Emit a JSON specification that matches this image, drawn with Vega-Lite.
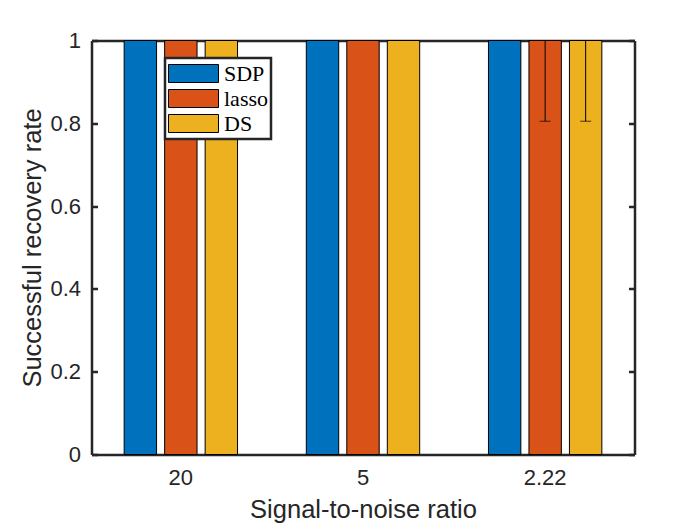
{
  "$schema": "https://vega.github.io/schema/vega-lite/v6.json",
  "width": 543,
  "height": 414,
  "autosize": {"type": "none"},
  "padding": {"left": 91.5, "top": 40.5, "right": 65.5, "bottom": 70.5},
  "background": "white",
  "data": {
    "values": [
      {"snr": "20", "method": "SDP", "rate": 1, "lo": 1, "hi": 1},
      {"snr": "20", "method": "lasso", "rate": 1, "lo": 1, "hi": 1},
      {"snr": "20", "method": "DS", "rate": 1, "lo": 1, "hi": 1},
      {"snr": "5", "method": "SDP", "rate": 1, "lo": 1, "hi": 1},
      {"snr": "5", "method": "lasso", "rate": 1, "lo": 1, "hi": 1},
      {"snr": "5", "method": "DS", "rate": 1, "lo": 1, "hi": 1},
      {"snr": "2.22", "method": "SDP", "rate": 1, "lo": 1, "hi": 1},
      {"snr": "2.22", "method": "lasso", "rate": 1, "lo": 0.805, "hi": 1},
      {"snr": "2.22", "method": "DS", "rate": 1, "lo": 0.805, "hi": 1}
    ]
  },
  "encoding": {
    "x": {
      "field": "snr",
      "type": "nominal",
      "sort": ["20", "5", "2.22"],
      "scale": {"paddingInner": 0.333, "paddingOuter": 0.157},
      "axis": null
    },
    "xOffset": {
      "field": "method",
      "type": "nominal",
      "sort": ["SDP", "lasso", "DS"],
      "scale": {"paddingInner": 0.2, "paddingOuter": 0.1}
    }
  },
  "layer": [
    {
      "mark": {"type": "bar", "stroke": "black", "strokeWidth": 1},
      "encoding": {
        "x": {
          "field": "snr",
          "type": "nominal",
          "sort": ["20", "5", "2.22"],
          "title": "Signal-to-noise ratio",
          "axis": {"orient": "bottom", "labelAngle": 0, "labelPadding": 19, "titlePadding": 9}
        },
        "y": {
          "field": "rate",
          "type": "quantitative",
          "scale": {"domain": [0, 1], "nice": false},
          "title": "Successful recovery rate",
          "axis": {"orient": "left", "values": [0, 0.2, 0.4, 0.6, 0.8, 1], "format": "~g", "labelPadding": 17}
        },
        "color": {
          "field": "method",
          "type": "nominal",
          "sort": ["SDP", "lasso", "DS"],
          "scale": {"domain": ["SDP", "lasso", "DS"], "range": ["#0072BD", "#D95319", "#EDB120"]},
          "legend": {
            "title": null,
            "orient": "none",
            "legendX": 73.5,
            "legendY": 17.5,
            "symbolType": "M-1,-0.36H1V0.36H-1Z",
            "symbolSize": 2500,
            "symbolStrokeColor": "black",
            "symbolStrokeWidth": 1,
            "symbolOpacity": 1,
            "clipHeight": 25,
            "rowPadding": 0,
            "labelOffset": 5,
            "labelFont": "Liberation Serif",
            "labelFontSize": 22,
            "labelColor": "black",
            "padding": 3,
            "fillColor": "white",
            "strokeColor": "#262626"
          }
        }
      }
    },
    {
      "mark": {"type": "rule", "color": "black", "strokeWidth": 1},
      "encoding": {
        "x": {
          "field": "snr",
          "type": "nominal",
          "sort": ["20", "5", "2.22"],
          "title": null,
          "axis": {"orient": "top", "labels": false}
        },
        "y": {
          "field": "lo",
          "type": "quantitative",
          "title": null,
          "axis": {"orient": "right", "labels": false, "values": [0, 0.2, 0.4, 0.6, 0.8, 1]}
        },
        "y2": {"field": "hi"}
      }
    },
    {
      "mark": {"type": "tick", "orient": "horizontal", "color": "black", "size": 11, "thickness": 1},
      "encoding": {"y": {"field": "lo", "type": "quantitative", "axis": null}}
    },
    {
      "mark": {"type": "tick", "orient": "horizontal", "color": "black", "size": 11, "thickness": 1},
      "encoding": {"y": {"field": "hi", "type": "quantitative", "axis": null}}
    }
  ],
  "resolve": {"axis": {"x": "independent", "y": "independent"}},
  "config": {
    "view": {"stroke": null},
    "axis": {
      "zindex": 1,
      "domainColor": "#262626",
      "domainWidth": 2.5,
      "tickColor": "#262626",
      "tickWidth": 2.5,
      "tickSize": -6,
      "grid": false,
      "labelFont": "Liberation Sans",
      "labelFontSize": 22,
      "labelColor": "#262626",
      "labelPadding": 11,
      "titleFont": "Liberation Sans",
      "titleFontSize": 25.5,
      "titleFontWeight": "normal",
      "titleColor": "#262626"
    },
    "legend": {"strokeWidth": 2.5}
  }
}
